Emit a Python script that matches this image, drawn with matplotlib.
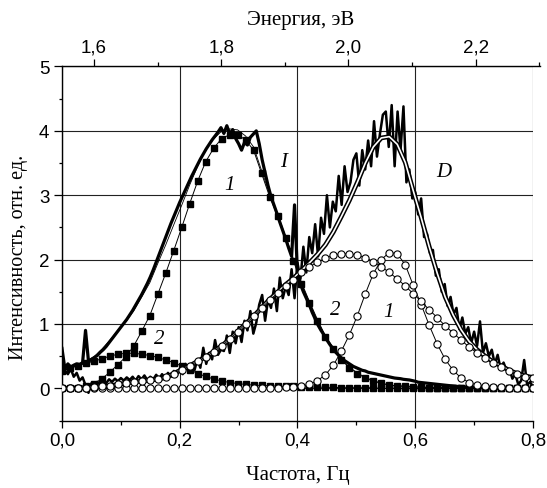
import numpy as np
import matplotlib
matplotlib.use('Agg')
import matplotlib.pyplot as plt
from matplotlib.ticker import FuncFormatter, MultipleLocator

# Marker grid for the fitted components (60 points, 0 .. 0.8)
x_comp = np.linspace(0.0, 0.8, 60)

# Spectrum I, component 1 (filled squares)
i_comp1 = [0.00, 0.00, 0.01, 0.03, 0.07, 0.15, 0.25, 0.37, 0.49, 0.66,
           0.89, 1.13, 1.46, 1.79, 2.14, 2.50, 2.87, 3.22, 3.52, 3.73,
           3.88, 3.94, 3.94, 3.86, 3.70, 3.34, 2.98, 2.68, 2.33, 1.98,
           1.62, 1.33, 1.05, 0.80, 0.61, 0.44, 0.32, 0.23, 0.16, 0.11,
           0.08, 0.05, 0.04, 0.03, 0.02, 0.02, 0.01, 0.01, 0.01, 0.00,
           0.00, 0.00, 0.00, 0.00, 0.00, 0.00, 0.00, 0.00, 0.00, 0.00]
# Spectrum I, component 2 (filled squares)
i_comp2 = [0.27, 0.31, 0.35, 0.39, 0.42, 0.46, 0.50, 0.53, 0.545, 0.545,
           0.53, 0.51, 0.48, 0.44, 0.40, 0.345, 0.29, 0.23, 0.185, 0.145,
           0.115, 0.09, 0.075, 0.06, 0.05, 0.045, 0.04, 0.035, 0.03, 0.03,
           0.025, 0.02, 0.02, 0.015, 0.015, 0.01, 0.01, 0.01, 0.01, 0.01,
           0.00, 0.00, 0.00, 0.00, 0.00, 0.00, 0.00, 0.00, 0.00, 0.00,
           0.00, 0.00, 0.00, 0.00, 0.00, 0.00, 0.00, 0.00, 0.00, 0.00]
# Spectrum D, component 1 (open circles)
d_comp1 = [0.00, 0.00, 0.00, 0.00, 0.00, 0.00, 0.00, 0.00, 0.00, 0.00,
           0.00, 0.00, 0.00, 0.00, 0.00, 0.00, 0.00, 0.00, 0.00, 0.00,
           0.00, 0.00, 0.00, 0.00, 0.00, 0.00, 0.01, 0.01, 0.02, 0.02,
           0.03, 0.06, 0.12, 0.21, 0.36, 0.58, 0.83, 1.13, 1.47, 1.78,
           2.00, 2.11, 2.09, 1.92, 1.60, 1.30, 0.98, 0.69, 0.45, 0.28,
           0.16, 0.09, 0.05, 0.03, 0.02, 0.02, 0.01, 0.01, 0.01, 0.01]
# Spectrum D, component 2 (open circles)
d_comp2 = [0.00, 0.00, 0.01, 0.01, 0.02, 0.03, 0.04, 0.06, 0.08, 0.10,
           0.11, 0.13, 0.14, 0.17, 0.23, 0.29, 0.35, 0.42, 0.49, 0.57,
           0.66, 0.76, 0.88, 1.00, 1.12, 1.25, 1.37, 1.48, 1.59, 1.69,
           1.80, 1.89, 1.96, 2.02, 2.07, 2.09, 2.09, 2.07, 2.03, 1.97,
           1.89, 1.80, 1.70, 1.59, 1.47, 1.35, 1.22, 1.10, 0.97, 0.86,
           0.75, 0.64, 0.55, 0.47, 0.39, 0.33, 0.27, 0.22, 0.18, 0.16]

# Measured spectra, step 0.005
x_meas = np.linspace(0.0, 0.8, 161)
i_meas = [0.62, 0.30, 0.38, 0.33, 0.36, 0.38, 0.37, 0.40, 0.90, 0.42,
          0.45, 0.48, 0.51, 0.56, 0.60, 0.65, 0.71, 0.77, 0.83, 0.89,
          0.95, 1.01, 1.07, 1.14, 1.21, 1.29, 1.37, 1.45, 1.54, 1.63,
          1.73, 1.84, 1.96, 2.08, 2.20, 2.32, 2.44, 2.56, 2.67, 2.78,
          2.89, 2.99, 3.09, 3.19, 3.29, 3.38, 3.47, 3.56, 3.64, 3.72,
          3.79, 3.86, 3.92, 3.98, 4.05, 3.96, 4.08, 3.95, 4.02, 3.88,
          3.80, 3.70, 3.82, 3.78, 3.90, 3.95, 4.00, 3.80, 3.55, 3.35,
          3.15, 2.98, 2.85, 2.72, 2.58, 2.45, 2.32, 2.18, 2.05, 2.85,
          1.78, 1.62, 1.50, 1.40, 1.30, 1.18, 1.08, 0.98, 0.90, 0.83,
          0.75, 0.68, 0.62, 0.56, 0.51, 0.47, 0.43, 0.40, 0.37, 0.34,
          0.32, 0.30, 0.28, 0.27, 0.25, 0.24, 0.23, 0.22, 0.21, 0.20,
          0.19, 0.18, 0.17, 0.16, 0.155, 0.15, 0.14, 0.135, 0.13, 0.12,
          0.11, 0.095, 0.09, 0.085, 0.08, 0.075, 0.07, 0.065, 0.06, 0.055,
          0.05, 0.045, 0.04, 0.035, 0.03, 0.03, 0.025, 0.02, 0.02, 0.015,
          0.01, 0.01, 0.01, 0.01, 0.01, 0.01, 0.00, 0.00, 0.00, 0.00,
          0.00, 0.00, 0.00, 0.00, 0.00, 0.00, 0.00, 0.00, 0.00, 0.00,
          0.00]
d_meas = [0.35, 0.28, 0.22, 0.30, 0.18, 0.24, 0.12, 0.17, 0.05, -0.07,
          0.08, 0.02, 0.10, 0.06, 0.12, 0.08, 0.14, 0.10, 0.15, 0.11,
          0.16, 0.12, 0.17, 0.13, 0.18, 0.12, 0.19, 0.14, 0.20, 0.13,
          0.18, 0.14, 0.21, 0.15, 0.22, 0.16, 0.24, 0.18, 0.27, 0.20,
          0.30, 0.22, 0.38, 0.25, 0.33, 0.28, 0.45, 0.32, 0.63, 0.38,
          0.55, 0.45, 0.75, 0.52, 0.60, 0.58, 0.82, 0.55, 0.88, 0.70,
          0.95, 0.72, 1.05, 0.90, 1.20, 0.85, 1.02, 1.30, 1.45, 1.05,
          1.38, 1.25, 1.55, 1.20, 1.72, 1.40, 1.58, 1.45, 1.85, 1.40,
          1.95, 1.70, 2.20, 1.80, 2.35, 2.10, 2.55, 2.05, 2.65, 2.40,
          3.00, 2.50, 2.90, 2.75, 3.30, 2.85, 3.45, 3.05, 3.20, 3.55,
          3.65, 3.15, 3.70, 3.40, 3.85, 3.45, 4.15, 3.60, 3.95, 4.25,
          4.30, 3.75, 4.40, 3.45, 4.30, 3.70, 4.38, 3.20, 3.40, 2.95,
          3.05, 2.70, 2.95, 2.35, 2.40, 2.10, 2.15, 1.75, 1.85, 1.50,
          1.62, 1.28, 1.42, 1.15, 1.25, 0.92, 1.10, 0.85, 0.95, 0.70,
          0.88, 0.66, 1.04, 0.55, 0.70, 0.50, 0.60, 0.38, 0.52, 0.30,
          0.40, 0.28, 0.30, 0.15, 0.22, 0.06, 0.12, 0.44, 0.05, 0.10,
          0.02]

# Fits are the sums of the components
i_fit = np.array(i_comp1) + np.array(i_comp2)
d_fit = np.array(d_comp1) + np.array(d_comp2)

SANS = 'Liberation Sans'
SERIF = 'Liberation Serif'

fig = plt.figure(figsize=(5.47, 4.89), dpi=100)
ax = fig.add_axes([0.1133, 0.138, 0.8611, 0.724])

ax.grid(True, which='major', color='#222222', lw=0.8)
ax.set_axisbelow(True)

# spectrum I
ax.plot(x_meas, i_meas, color='black', lw=2.3, zorder=3)
ax.plot(x_comp, i_fit, color='black', lw=0.6, zorder=4)
ax.plot(x_comp, i_comp1, color='black', lw=0.7, marker='s', ms=4.3,
        mfc='black', mec='black', zorder=5)
ax.plot(x_comp, i_comp2, color='black', lw=0.7, marker='s', ms=4.3,
        mfc='black', mec='black', zorder=5)

# spectrum D
ax.plot(x_meas, d_meas, color='black', lw=1.8, zorder=3)
ax.plot(x_comp, d_fit, color='black', lw=3.4, zorder=6)
ax.plot(x_comp, d_fit, color='white', lw=1.2, zorder=6)
for comp in (d_comp1, d_comp2):
    ax.plot(x_comp, comp, color='black', lw=0.7, marker='o', ms=5.2,
            mfc='white', mec='black', mew=0.8, zorder=7)

# curve labels
lab = dict(family=SERIF, style='italic', fontsize=15, ha='center',
           va='center', zorder=8)
ax.text(0.377, 3.52, 'I', **lab)
ax.text(0.285, 3.17, '1', **lab)
ax.text(0.166, 0.77, '2', **lab)
ax.text(0.648, 3.37, 'D', **lab)
ax.text(0.464, 1.22, '2', **lab)
ax.text(0.554, 1.19, '1', **lab)

ax.set_xlim(0, 0.8)
ax.set_ylim(-0.5, 5)
ax.xaxis.set_major_locator(MultipleLocator(0.2))
ax.xaxis.set_minor_locator(MultipleLocator(0.1))
ax.yaxis.set_major_locator(MultipleLocator(1))
ax.yaxis.set_minor_locator(MultipleLocator(0.5))
ax.xaxis.set_major_formatter(FuncFormatter(lambda v, p: f'{v:.1f}'.replace('.', ',')))
ax.yaxis.set_major_formatter(FuncFormatter(lambda v, p: f'{v:.0f}'))
ax.tick_params(which='both', direction='out', width=0.9, labelsize=13.5, pad=3)
ax.tick_params(axis='x', which='major', length=5)
ax.tick_params(axis='x', which='minor', length=3)
ax.tick_params(axis='y', which='major', length=6)
ax.tick_params(axis='y', which='minor', length=2)
for t in ax.get_xticklabels() + ax.get_yticklabels():
    t.set_family(SANS)
ax.spines['right'].set_visible(False)
ax.spines['top'].set_visible(False)
for s in ('left', 'bottom'):
    ax.spines[s].set_linewidth(1.0)

ax.set_xlabel('Частота, Гц', family=SERIF, fontsize=15, labelpad=12)
ax.set_ylabel('Интенсивность, отн. ед.', family=SERIF, fontsize=14.5)
ax.yaxis.set_label_coords(-0.072, 0.465)

# top energy axis (slightly wider than the main one)
axt = fig.add_axes([0.1133, 0.138, 0.8739, 0.724])
axt.patch.set_visible(False)
axt.set_xlim(1.5495, 2.3013)
axt.set_ylim(0, 1)
for s in ('left', 'right', 'bottom'):
    axt.spines[s].set_visible(False)
axt.spines['top'].set_linewidth(1.0)
axt.yaxis.set_visible(False)
axt.xaxis.tick_top()
axt.xaxis.set_label_position('top')
axt.xaxis.set_major_locator(MultipleLocator(0.2))
axt.xaxis.set_minor_locator(MultipleLocator(0.1))
axt.xaxis.set_major_formatter(FuncFormatter(lambda v, p: f'{v:.1f}'.replace('.', ',')))
axt.tick_params(which='both', direction='out', width=0.9, labelsize=13.5, pad=3)
axt.tick_params(which='major', length=5)
axt.tick_params(which='minor', length=3)
for t in axt.get_xticklabels():
    t.set_family(SANS)
axt.set_xlabel('Энергия, эВ', family=SERIF, fontsize=15, labelpad=10)

fig.savefig('out.png', dpi=100)
